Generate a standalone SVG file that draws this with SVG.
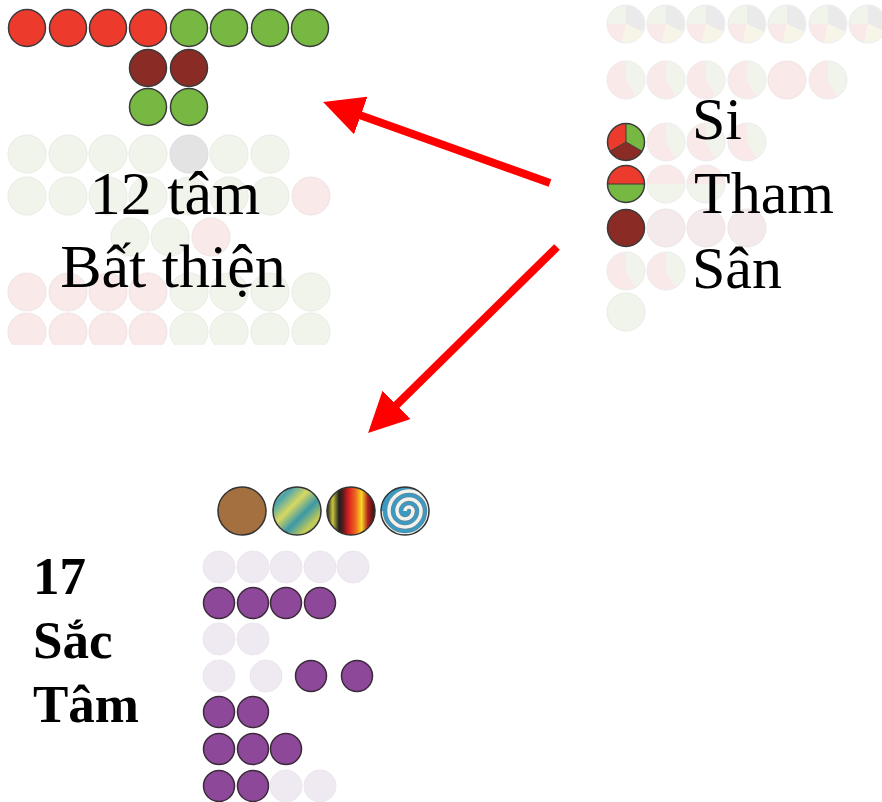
<svg xmlns="http://www.w3.org/2000/svg" xmlns:xlink="http://www.w3.org/1999/xlink" width="882" height="802" viewBox="0 0 882 802">
<style>
.r{fill:#EC3A2D;stroke:#3a3a3a;stroke-width:1.5}
.g{fill:#77B843;stroke:#3a3a3a;stroke-width:1.5}
.d{fill:#8A2B25;stroke:#3a3a3a;stroke-width:1.5}
.fg{fill:#F0F4EB;stroke:#E8ECE4;stroke-width:1}
.fp{fill:#F9E9E9;stroke:#F0E4E4;stroke-width:1}
.fx{fill:#E3E3E3;stroke:#DDDDDD;stroke-width:1}
.fs{fill:#F4EAEC;stroke:#EDE4E6;stroke-width:1}
.p{fill:#8E4899;stroke:#3a2a3a;stroke-width:1.5}
.fv{fill:#EFEAF2;stroke:#EAE5EE;stroke-width:1}
.big{font-family:"Liberation Serif","Times New Roman",serif;fill:#000}
.bold{font-family:"Liberation Serif","Times New Roman",serif;font-weight:bold;fill:#000;font-size:53px}
.arrow{stroke:#FF0000;stroke-width:8;fill:none}
</style>
<defs>
<marker id="head" markerUnits="userSpaceOnUse" markerWidth="40" markerHeight="40" viewBox="0 0 38 38" refX="2" refY="19" orient="auto">
<path d="M0,0 L38,19 L0,38 Z" fill="#FF0000"/>
</marker>
<g id="pie4">
<path d="M0,0 L-19,0 A19,19 0 0 1 0,-19 Z" fill="#F0F4EB"/>
<path d="M0,0 L0,-19 A19,19 0 0 1 17,8 Z" fill="#EAEAEA"/>
<path d="M0,0 L17,8 A19,19 0 0 1 -4,18.5 Z" fill="#F6F5E8"/>
<path d="M0,0 L-4,18.5 A19,19 0 0 1 -19,0 Z" fill="#F9E9E9"/>
<circle r="19" fill="none" stroke="#ECECEC" stroke-width="1"/>
</g>
<g id="pie2">
<path d="M0,0 L0,-19 A19,19 0 0 1 9.5,16.45 Z" fill="#F0F4EB"/>
<path d="M0,0 L9.5,16.45 A19,19 0 1 1 0,-19 Z" fill="#F9E9E9"/>
<circle r="19" fill="none" stroke="#ECECEC" stroke-width="1"/>
</g>
<g id="pieH">
<path d="M-19,0 A19,19 0 0 1 19,0 Z" fill="#F9E9E9"/>
<path d="M-19,0 A19,19 0 0 0 19,0 Z" fill="#F0F4EB"/>
<circle r="19" fill="none" stroke="#ECECEC" stroke-width="1"/>
</g>
<clipPath id="clipL"><rect x="0" y="0" width="340" height="345"/></clipPath>
<clipPath id="clipR"><rect x="600" y="0" width="282" height="345"/></clipPath>
<linearGradient id="gradB" x1="0" y1="0" x2="1" y2="1">
<stop offset="0" stop-color="#D5D250"/>
<stop offset="0.2" stop-color="#49A3AE"/>
<stop offset="0.4" stop-color="#D9D860"/>
<stop offset="0.6" stop-color="#3A98A8"/>
<stop offset="0.8" stop-color="#C8CC52"/>
<stop offset="1" stop-color="#4AA0A8"/>
</linearGradient>
<linearGradient id="gradC" x1="0" y1="0" x2="1" y2="0">
<stop offset="0" stop-color="#202020"/>
<stop offset="0.12" stop-color="#C8C440"/>
<stop offset="0.25" stop-color="#202020"/>
<stop offset="0.33" stop-color="#5A1A1A"/>
<stop offset="0.45" stop-color="#D82020"/>
<stop offset="0.6" stop-color="#F06A20"/>
<stop offset="0.72" stop-color="#F8D820"/>
<stop offset="0.85" stop-color="#B02020"/>
<stop offset="1" stop-color="#301010"/>
</linearGradient>
<clipPath id="clipS"><circle cx="405" cy="511" r="24"/></clipPath>
</defs>

<g id="unwholesome">
<g clip-path="url(#clipL)">
<circle class="fg" cx="27" cy="154" r="19"/><circle class="fg" cx="68" cy="154" r="19"/><circle class="fg" cx="108" cy="154" r="19"/><circle class="fg" cx="148" cy="154" r="19"/><circle class="fx" cx="189" cy="154" r="19"/><circle class="fg" cx="229" cy="154" r="19"/><circle class="fg" cx="270" cy="154" r="19"/>
<circle class="fg" cx="27" cy="196" r="19"/><circle class="fg" cx="68" cy="196" r="19"/><circle class="fg" cx="108" cy="196" r="19"/><circle class="fg" cx="148" cy="196" r="19"/><circle class="fg" cx="189" cy="196" r="19"/><circle class="fg" cx="229" cy="196" r="19"/><circle class="fg" cx="270" cy="196" r="19"/><circle class="fp" cx="311" cy="196" r="19"/>
<circle class="fg" cx="130" cy="237" r="19"/><circle class="fg" cx="170" cy="237" r="19"/><circle class="fp" cx="211" cy="237" r="19"/>
<circle class="fp" cx="27" cy="292" r="19"/><circle class="fp" cx="68" cy="292" r="19"/><circle class="fp" cx="108" cy="292" r="19"/><circle class="fp" cx="148" cy="292" r="19"/><circle class="fg" cx="189" cy="292" r="19"/><circle class="fg" cx="229" cy="292" r="19"/><circle class="fg" cx="270" cy="292" r="19"/><circle class="fg" cx="311" cy="292" r="19"/>
<circle class="fp" cx="27" cy="332" r="19"/><circle class="fp" cx="68" cy="332" r="19"/><circle class="fp" cx="108" cy="332" r="19"/><circle class="fp" cx="148" cy="332" r="19"/><circle class="fg" cx="189" cy="332" r="19"/><circle class="fg" cx="229" cy="332" r="19"/><circle class="fg" cx="270" cy="332" r="19"/><circle class="fg" cx="311" cy="332" r="19"/>
</g>
<circle class="r" cx="27" cy="28" r="18.5"/><circle class="r" cx="68" cy="28" r="18.5"/><circle class="r" cx="108" cy="28" r="18.5"/><circle class="r" cx="148" cy="28" r="18.5"/>
<circle class="g" cx="189" cy="28" r="18.5"/><circle class="g" cx="229" cy="28" r="18.5"/><circle class="g" cx="270" cy="28" r="18.5"/><circle class="g" cx="310" cy="28" r="18.5"/>
<circle class="d" cx="148" cy="68" r="18.5"/><circle class="d" cx="189" cy="68" r="18.5"/>
<circle class="g" cx="148" cy="107" r="18.5"/><circle class="g" cx="189" cy="107" r="18.5"/>
<text class="big" font-size="62" x="175" y="214" text-anchor="middle">12 tâm</text>
<text class="big" font-size="62" x="173" y="287" text-anchor="middle">Bất thiện</text>
</g>

<g id="roots">
<g clip-path="url(#clipR)">
<use xlink:href="#pie4" x="626" y="24"/><use xlink:href="#pie4" x="666" y="24"/><use xlink:href="#pie4" x="706" y="24"/><use xlink:href="#pie4" x="747" y="24"/><use xlink:href="#pie4" x="787" y="24"/><use xlink:href="#pie4" x="828" y="24"/><use xlink:href="#pie4" x="868" y="24"/>
<use xlink:href="#pie2" x="626" y="80"/><use xlink:href="#pie2" x="666" y="80"/><use xlink:href="#pie2" x="706" y="80"/><use xlink:href="#pie2" x="747" y="80"/><circle class="fp" cx="787" cy="80" r="19"/><use xlink:href="#pie2" x="828" y="80"/>
<use xlink:href="#pie2" x="666" y="142"/><use xlink:href="#pie2" x="706" y="142"/><use xlink:href="#pie2" x="747" y="142"/>
<use xlink:href="#pieH" x="666" y="184"/><use xlink:href="#pieH" x="706" y="184"/>
<circle class="fs" cx="666" cy="228" r="19"/><circle class="fs" cx="706" cy="228" r="19"/><circle class="fs" cx="747" cy="228" r="19"/>
<use xlink:href="#pie2" x="626" y="271"/><use xlink:href="#pie2" x="666" y="271"/>
<circle class="fg" cx="626" cy="312" r="19"/>
</g>
<g transform="translate(626,142)">
<path d="M0,0 L0,-18.5 A18.5,18.5 0 0 1 16,9.25 Z" fill="#77B843"/>
<path d="M0,0 L16,9.25 A18.5,18.5 0 0 1 -16,9.25 Z" fill="#8A2B25"/>
<path d="M0,0 L-16,9.25 A18.5,18.5 0 0 1 0,-18.5 Z" fill="#EC3A2D"/>
<path d="M0,0 L0,-18.5 M0,0 L16,9.25 M0,0 L-16,9.25" stroke="#3a3a3a" stroke-width="1"/>
<circle r="18.5" fill="none" stroke="#3a3a3a" stroke-width="1.5"/>
</g>
<g transform="translate(626,184)">
<path d="M-18.5,0 A18.5,18.5 0 0 1 18.5,0 Z" fill="#EC3A2D"/>
<path d="M-18.5,0 A18.5,18.5 0 0 0 18.5,0 Z" fill="#77B843"/>
<path d="M-18.5,0 L18.5,0" stroke="#3a3a3a" stroke-width="1"/>
<circle r="18.5" fill="none" stroke="#3a3a3a" stroke-width="1.5"/>
</g>
<circle class="d" cx="626" cy="228" r="18.5"/>
<text class="big" font-size="60" x="692" y="139">Si</text>
<text class="big" font-size="60" x="694" y="213">Tham</text>
<text class="big" font-size="60" x="692" y="288">Sân</text>
</g>

<g id="rupa">
<circle cx="242" cy="511" r="24" fill="#A4703F" stroke="#333" stroke-width="1.5"/>
<circle cx="297" cy="511" r="24" fill="url(#gradB)" stroke="#333" stroke-width="1.5"/>
<circle cx="351" cy="511" r="24" fill="url(#gradC)" stroke="#333" stroke-width="1.5"/>
<circle cx="405" cy="511" r="24" fill="#3A9AC2"/>
<g clip-path="url(#clipS)">
<path d="M405,511 A4,4 0 0 1 413,511 A8,8 0 0 1 397,511 A12,12 0 0 1 421,511 A16,16 0 0 1 389,511 A20,20 0 0 1 429,511 A24,24 0 0 1 381,511" fill="none" stroke="#7A8088" stroke-width="4.5"/>
<path d="M405,511 A4,4 0 0 1 413,511 A8,8 0 0 1 397,511 A12,12 0 0 1 421,511 A16,16 0 0 1 389,511 A20,20 0 0 1 429,511 A24,24 0 0 1 381,511" fill="none" stroke="#F2F2EE" stroke-width="3.5"/>
</g>
<circle cx="405" cy="511" r="24" fill="none" stroke="#333" stroke-width="1.5"/>
<circle class="fv" cx="219" cy="567" r="16"/><circle class="fv" cx="253" cy="567" r="16"/><circle class="fv" cx="286" cy="567" r="16"/><circle class="fv" cx="320" cy="567" r="16"/><circle class="fv" cx="353" cy="567" r="16"/>
<circle class="p" cx="219" cy="603" r="15.5"/><circle class="p" cx="253" cy="603" r="15.5"/><circle class="p" cx="286" cy="603" r="15.5"/><circle class="p" cx="320" cy="603" r="15.5"/>
<circle class="fv" cx="219" cy="639" r="16"/><circle class="fv" cx="253" cy="639" r="16"/>
<circle class="fv" cx="219" cy="676" r="16"/><circle class="fv" cx="266" cy="676" r="16"/><circle class="p" cx="311" cy="676" r="15.5"/><circle class="p" cx="357" cy="676" r="15.5"/>
<circle class="p" cx="219" cy="712" r="15.5"/><circle class="p" cx="253" cy="712" r="15.5"/>
<circle class="p" cx="219" cy="749" r="15.5"/><circle class="p" cx="253" cy="749" r="15.5"/><circle class="p" cx="286" cy="749" r="15.5"/>
<circle class="p" cx="219" cy="786" r="15.5"/><circle class="p" cx="253" cy="786" r="15.5"/><circle class="fv" cx="286" cy="786" r="16"/><circle class="fv" cx="320" cy="786" r="16"/>
<text class="bold" x="33" y="594">17</text>
<text class="bold" x="33" y="658">Sắc</text>
<text class="bold" x="33" y="722">Tâm</text>
</g>

<g id="connectors">
<line class="arrow" x1="550" y1="183" x2="358.8" y2="114.8" marker-end="url(#head)"/>
<line class="arrow" x1="557" y1="247" x2="395.1" y2="406.3" marker-end="url(#head)"/>
</g>
</svg>
